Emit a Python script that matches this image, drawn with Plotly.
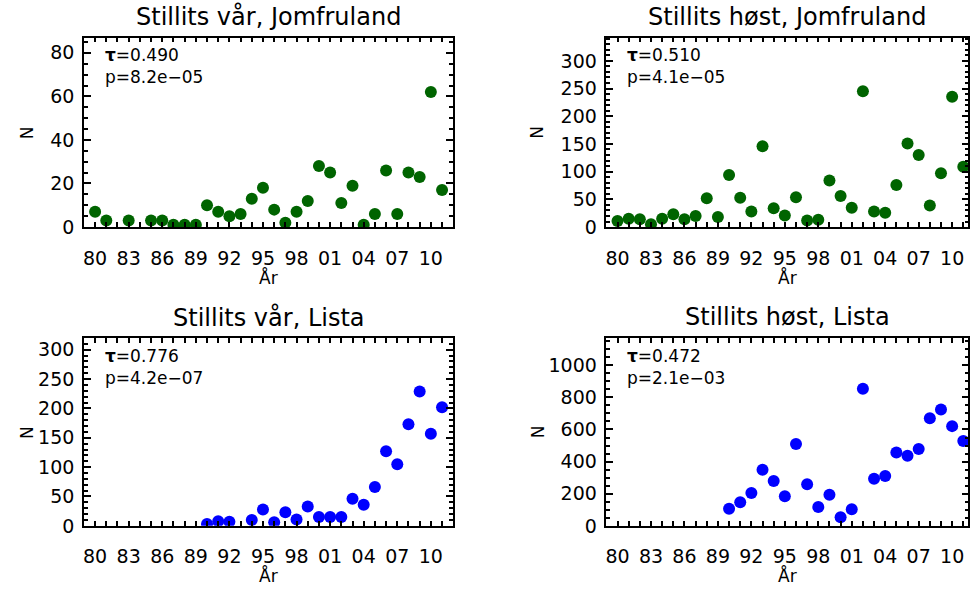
import plotly.graph_objects as go

# Stillits (goldfinch) counts per year at two bird observatories
years_var_jomfruland = [1980, 1981, 1983, 1985, 1986, 1987, 1988, 1989, 1990, 1991,
                        1992, 1993, 1994, 1995, 1996, 1997, 1998, 1999, 2000, 2001,
                        2002, 2003, 2004, 2005, 2006, 2007, 2008, 2009, 2010, 2011]
n_var_jomfruland = [7, 3, 3, 3, 3, 1, 1, 1, 10, 7,
                    5, 6, 13, 18, 8, 2, 7, 12, 28, 25,
                    11, 19, 1, 6, 26, 6, 25, 23, 62, 17]

years_host_jomfruland = list(range(1980, 2012))
n_host_jomfruland = [11, 15, 14, 5, 15, 23, 14, 20, 52, 18,
                     94, 53, 28, 146, 34, 21, 54, 12, 13, 84,
                     56, 35, 245, 28, 26, 76, 151, 130, 39, 97,
                     235, 109]

years_var_lista = [1990, 1991, 1992, 1994, 1995, 1996, 1997, 1998, 1999, 2000,
                   2001, 2002, 2003, 2004, 2005, 2006, 2007, 2008, 2009, 2010, 2011]
n_var_lista = [3, 8, 7, 10, 28, 6, 23, 11, 33, 15,
               15, 15, 46, 36, 66, 127, 105, 173, 229, 157, 202]

years_host_lista = list(range(1990, 2012))
n_host_lista = [106, 147, 204, 350, 279, 185, 509, 259, 118, 193,
                53, 104, 853, 293, 310, 456, 436, 479, 670, 725,
                621, 529]

titles = ["Stillits vår, Jomfruland", "Stillits høst, Jomfruland",
          "Stillits vår, Lista", "Stillits høst, Lista"]
tau_text = ["0.490", "0.510", "0.776", "0.472"]
p_text = ["8.2e\u221205", "4.1e\u221205", "4.2e\u221207", "2.1e\u221203"]

tick_years = [1980, 1983, 1986, 1989, 1992, 1995, 1998, 2001, 2004, 2007, 2010]
tick_labels = ["80", "83", "86", "89", "92", "95", "98", "01", "04", "07", "10"]

series = [
    (years_var_jomfruland, n_var_jomfruland, "#006400"),
    (years_host_jomfruland, n_host_jomfruland, "#006400"),
    (years_var_lista, n_var_lista, "#0000ff"),
    (years_host_lista, n_host_lista, "#0000ff"),
]

W, H = 974, 598
FONT = "DejaVu Sans"

# panel frames in pixels: (left, right, top, bottom)
frames = [
    (83, 452.7, 38.3, 231.3),
    (606, 968.3, 38.3, 231.3),
    (83, 452.7, 344.3, 535.7),
    (606, 968.3, 344.3, 535.7),
]
x_ranges = [[1979, 2012], [1979, 2011.45], [1979, 2012], [1979, 2011.45]]
y_ranges = [[0, 87], [0, 342], [0, 320], [0, 1170]]
y_major = [20, 50, 50, 200]
y_minor = [5, 10, 10, 50]

fig = go.Figure()
layout = dict(
    width=W, height=H,
    margin=dict(l=0, r=0, t=0, b=0),
    paper_bgcolor="white", plot_bgcolor="white",
    showlegend=False,
    font=dict(family=FONT, color="black", size=19),
)
annotations = []

for i, ((xs, ys, color), (l, r, t, b)) in enumerate(zip(series, frames)):
    k = "" if i == 0 else str(i + 1)
    fig.add_trace(go.Scatter(
        x=xs, y=ys, mode="markers",
        marker=dict(size=12, color=color, line=dict(width=0)),
        xaxis="x" + k, yaxis="y" + k, cliponaxis=True,
    ))
    layout["xaxis" + k] = dict(
        domain=[l / W, r / W], anchor="y" + k, range=x_ranges[i],
        tickmode="array", tickvals=tick_years, ticktext=tick_labels,
        ticks="inside", ticklen=5, tickwidth=1.5, tickcolor="black",
        minor=dict(tickmode="linear", tick0=1979, dtick=1, ticks="inside",
                   ticklen=5, tickwidth=1.5, tickcolor="black"),
        showline=True, linewidth=1.5, linecolor="black", mirror="allticks",
        showgrid=False, zeroline=False, ticklabelstandoff=13,
        tickfont=dict(size=19, family=FONT),
    )
    layout["yaxis" + k] = dict(
        domain=[1 - b / H, 1 - t / H], anchor="x" + k, range=y_ranges[i],
        tickmode="linear", tick0=0, dtick=y_major[i],
        ticks="inside", ticklen=7, tickwidth=1.5, tickcolor="black",
        minor=dict(tickmode="linear", tick0=0, dtick=y_minor[i], ticks="inside",
                   ticklen=4, tickwidth=1.5, tickcolor="black"),
        showline=True, linewidth=1.5, linecolor="black", mirror="allticks",
        showgrid=False, zeroline=False, ticklabelstandoff=4,
        tickfont=dict(size=19, family=FONT),
    )
    cx = (l + r) / 2 / W
    # panel title
    annotations.append(dict(
        text=titles[i], x=cx, y=1 - (t - 21) / H, xref="paper", yref="paper",
        xanchor="center", yanchor="middle", showarrow=False,
        font=dict(size=24, family=FONT),
    ))
    # x-axis title
    annotations.append(dict(
        text="År", x=cx, y=1 - (b + 51) / H, xref="paper", yref="paper",
        xanchor="center", yanchor="middle", showarrow=False,
        font=dict(size=17, family=FONT),
    ))
    # y-axis title
    nx = 26 if i % 2 == 0 else 537
    annotations.append(dict(
        text="N", x=nx / W, y=1 - (t + b) / 2 / H, xref="paper", yref="paper",
        xanchor="center", yanchor="middle", showarrow=False, textangle=-90,
        font=dict(size=17, family=FONT),
    ))
    # Kendall tau and p-value
    annotations.append(dict(
        text="<b>τ</b>=" + tau_text[i] + "<br>p=" + p_text[i],
        x=(l + 19) / W, y=1 - (t + 6) / H,
        xref="paper", yref="paper", xanchor="left", yanchor="top", align="left",
        showarrow=False, font=dict(size=17, family=FONT),
    ))

layout["annotations"] = annotations
fig.update_layout(**layout)
fig.write_html("out.html")
